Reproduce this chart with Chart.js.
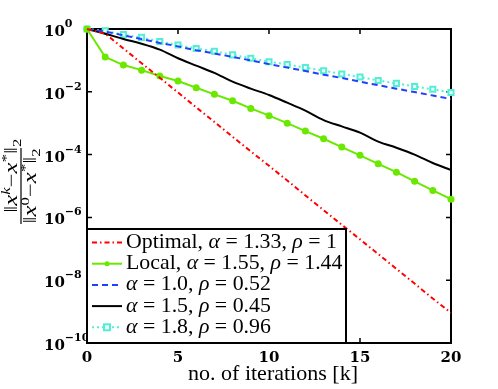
<!DOCTYPE html>
<html>
<head>
<meta charset="utf-8">
<script src="https://cdn.jsdelivr.net/npm/chart.js@4"></script>
<style>
  html, body { margin: 0; padding: 0; background: #fff; }
</style>
</head>
<body>
<canvas id="myChart" width="498" height="389"></canvas>
<script>
// =========================
//  DATA SECTION
// =========================

// iteration index k
const iterations = [0, 1, 2, 3, 4, 5, 6, 7, 8, 9, 10, 11, 12, 13, 14, 15, 16, 17, 18, 19, 20];

// relative error ||x^k - x*|| / ||x^0 - x*|| per series
const optimalValues = [1, 7.1e-1, 2.4e-1, 8.1e-2, 2.8e-2, 9.5e-3, 3.2e-3, 1.1e-3, 3.7e-4, 1.26e-4, 4.4e-5,
                       1.5e-5, 5.0e-6, 1.7e-6, 5.8e-7, 2.0e-7, 6.8e-8, 2.3e-8, 7.8e-9, 2.6e-9, 9.1e-10];
const localValues = [1, 1.29e-1, 7.1e-2, 4.9e-2, 3.2e-2, 2.2e-2, 1.35e-2, 8.3e-3, 5.2e-3, 2.95e-3, 1.74e-3,
                     1.0e-3, 5.6e-4, 3.2e-4, 1.74e-4, 9.5e-5, 5.1e-5, 2.75e-5, 1.41e-5, 7.2e-6, 3.8e-6];
const alpha10Values = [1, 8.3e-1, 6.3e-1, 4.8e-1, 3.6e-1, 2.8e-1, 2.1e-1, 1.66e-1, 1.29e-1, 1.0e-1, 7.6e-2,
                       5.9e-2, 4.6e-2, 3.5e-2, 2.75e-2, 2.1e-2, 1.62e-2, 1.26e-2, 9.8e-3, 7.6e-3, 5.9e-3];
const alpha15Values = [1, 7.1e-1, 4.8e-1, 3.4e-1, 2.2e-1, 1.17e-1, 6.8e-2, 4.0e-2, 2.1e-2, 1.26e-2, 7.9e-3,
                       4.5e-3, 2.5e-3, 1.26e-3, 7.9e-4, 5.0e-4, 2.6e-4, 1.66e-4, 1.0e-4, 5.4e-5, 3.2e-5];
const alpha18Values = [1, 8.7e-1, 6.6e-1, 5.4e-1, 4.0e-1, 3.1e-1, 2.4e-1, 1.95e-1, 1.5e-1, 1.17e-1, 9.1e-2,
                       7.4e-2, 5.9e-2, 4.7e-2, 3.7e-2, 2.95e-2, 2.3e-2, 1.86e-2, 1.48e-2, 1.2e-2, 9.5e-3];

// tick labels
const xTickValues = [0, 5, 10, 15, 20];
const yTickExponents = [0, -2, -4, -6, -8, -10];

// legend text
const legendLabels = [
    "Optimal, α = 1.33, ρ = 1",
    "Local, α = 1.55, ρ = 1.44",
    "α = 1.0, ρ = 0.52",
    "α = 1.5, ρ = 0.45",
    "α = 1.8, ρ = 0.96"
];
const xAxisTitle = "no. of iterations [k]";

// colours
const RED = "#ff0000";
const GREEN = "#6ae800";
const BLUE = "#2040ff";
const BLACK = "#000000";
const CYAN = "#55eed4";

// =========================
//  HELPER FUNCTIONS
// =========================

function toPoints(values) {
    return iterations.map((k, i) => ({ x: k, y: values[i] }));
}

// width of a list of text runs [{t, font, dy}]
function runsWidth(ctx, runs) {
    var w = 0;
    runs.forEach((r) => { ctx.font = r.font; w += ctx.measureText(r.t).width; });
    return w;
}
// draw runs starting at x, baseline y (sx = horizontal stretch)
function drawRuns(ctx, runs, x, y, sx) {
    sx = sx || 1;
    ctx.save();
    ctx.translate(x, y);
    ctx.scale(sx, 1);
    var cx = 0;
    runs.forEach((r) => {
        ctx.font = r.font;
        ctx.fillText(r.t, cx, r.dy || 0);
        cx += ctx.measureText(r.t).width;
    });
    ctx.restore();
}

// legend label -> runs with Greek letters in italic
function labelRuns(text) {
    var up = "21px 'Liberation Serif', serif";
    var it = "italic 21px 'Liberation Serif', serif";
    var runs = [];
    var cur = "";
    for (var ch of text) {
        if (ch == "α" || ch == "ρ") {
            if (cur) runs.push({ t: cur, font: up });
            cur = "";
            runs.push({ t: ch, font: it });
        } else {
            cur += ch;
        }
    }
    if (cur) runs.push({ t: cur, font: up });
    return runs;
}

// legend line samples, same styles as datasets
const legendStyles = [
    { color: RED, dash: [5, 3, 1.5, 3], width: 2, marker: null },
    { color: GREEN, dash: [], width: 2, marker: "circle" },
    { color: BLUE, dash: [6, 4], width: 2, marker: null },
    { color: BLACK, dash: [], width: 2, marker: null },
    { color: CYAN, dash: [2, 3], width: 2, marker: "rect" }
];

// =========================
//  CUSTOM AXES / LEGEND PLUGIN
// =========================

const axesPlugin = {
    id: "matlabAxes",
    beforeDatasetsDraw(chart) {
        const ctx = chart.ctx;
        const a = chart.chartArea;
        const xs = chart.scales.x;
        const ys = chart.scales.y;
        ctx.save();
        ctx.strokeStyle = "#000";
        ctx.lineWidth = 2;
        ctx.strokeRect(a.left, a.top, a.right - a.left, a.bottom - a.top);

        // ticks pointing inward
        ctx.lineWidth = 1.5;
        ctx.beginPath();
        xTickValues.forEach((v) => {
            var px = xs.getPixelForValue(v);
            ctx.moveTo(px, a.bottom); ctx.lineTo(px, a.bottom - 5);
            ctx.moveTo(px, a.top); ctx.lineTo(px, a.top + 5);
        });
        yTickExponents.forEach((e) => {
            var py = ys.getPixelForValue(Math.pow(10, e));
            ctx.moveTo(a.left, py); ctx.lineTo(a.left + 5, py);
            ctx.moveTo(a.right, py); ctx.lineTo(a.right - 5, py);
        });
        ctx.stroke();

        // tick labels
        ctx.fillStyle = "#000";
        ctx.textAlign = "center";
        ctx.textBaseline = "middle";
        ctx.font = "bold 15px 'DejaVu Serif', serif";
        xTickValues.forEach((v) => {
            ctx.fillText(String(v), xs.getPixelForValue(v), 358);
        });
        ctx.textAlign = "left";
        ctx.textBaseline = "alphabetic";
        yTickExponents.forEach((e) => {
            var py = ys.getPixelForValue(Math.pow(10, e));
            ctx.font = "bold 15px 'DejaVu Serif', serif";
            ctx.fillText("10", 44, py + 7);
            var w = ctx.measureText("10").width;
            ctx.font = "bold 11px 'DejaVu Serif', serif";
            ctx.fillText(e == 0 ? "0" : "\u2212" + (-e), 44 + w, py - 2);
        });

        // x axis title, stretched to the reference width
        ctx.font = "21px 'Liberation Serif', serif";
        var tw = ctx.measureText(xAxisTitle).width;
        drawRuns(ctx, [{ t: xAxisTitle, font: ctx.font }], 188, 380, 170 / tw);

        // y axis title (fraction, rotated)
        var f = "18px 'Liberation Serif', serif";
        var fi = "italic 18px 'Liberation Serif', serif";
        var fs = "italic 12px 'Liberation Serif', serif";
        var fn = "12px 'Liberation Serif', serif";
        var num = [
            { t: "\u2016", font: f }, { t: "x", font: fi }, { t: "k", font: fs, dy: -7 },
            { t: "\u2212", font: f }, { t: "x", font: fi }, { t: "*", font: fn, dy: -7 },
            { t: "\u2016", font: f }, { t: "2", font: fn, dy: 4 }
        ];
        var den = [
            { t: "\u2016", font: f }, { t: "x", font: fi }, { t: "0", font: fn, dy: -7 },
            { t: "\u2212", font: f }, { t: "x", font: fi }, { t: "*", font: fn, dy: -7 },
            { t: "\u2016", font: f }, { t: "2", font: fn, dy: 4 }
        ];
        var cy = (a.top + a.bottom) / 2;
        ctx.translate(21, cy);
        ctx.rotate(-Math.PI / 2);
        var wn = runsWidth(ctx, num);
        var wd = runsWidth(ctx, den);
        drawRuns(ctx, num, -wn / 2, -4, 74 / wn);
        drawRuns(ctx, den, -wd / 2 * (74 / wn), 15, 74 / wn);
        ctx.lineWidth = 1.2;
        ctx.beginPath();
        ctx.moveTo(-38, 0); ctx.lineTo(38, 0);
        ctx.stroke();
        ctx.restore();
    },
    afterDraw(chart) {
        const ctx = chart.ctx;
        const a = chart.chartArea;
        ctx.save();
        var bx = a.left, by = 229, bw = 259, bh = a.bottom - 229;
        ctx.fillStyle = "#fff";
        ctx.fillRect(bx, by, bw, bh);
        ctx.strokeStyle = "#000";
        ctx.lineWidth = 2;
        ctx.strokeRect(bx, by, bw, bh);

        legendLabels.forEach((lab, i) => {
            var base = 248 + i * 21.2;
            var ly = base - 5.5;
            var s = legendStyles[i];
            ctx.strokeStyle = s.color;
            ctx.lineWidth = s.width;
            ctx.setLineDash(s.dash);
            ctx.beginPath();
            ctx.moveTo(92, ly); ctx.lineTo(122, ly);
            ctx.stroke();
            ctx.setLineDash([]);
            if (s.marker == "circle") {
                ctx.fillStyle = s.color;
                ctx.beginPath();
                ctx.arc(107, ly, 2.5, 0, Math.PI * 2);
                ctx.fill();
            } else if (s.marker == "rect") {
                ctx.fillStyle = "#e8fffa";
                ctx.fillRect(104, ly - 3, 6, 6);
                ctx.strokeRect(104, ly - 3, 6, 6);
            }
            ctx.fillStyle = "#000";
            ctx.textAlign = "left";
            ctx.textBaseline = "alphabetic";
            var runs = labelRuns(lab);
            // first label spans about 211 px in the reference; same stretch for all rows
            var w0 = runsWidth(ctx, labelRuns(legendLabels[0]));
            drawRuns(ctx, runs, 126, base, 211 / w0);
        });
        ctx.restore();
    }
};

// =========================
//  CHART
// =========================

const ctx = document.getElementById("myChart");

const data = {
    datasets: [
        {
            label: legendLabels[0],
            data: toPoints(optimalValues),
            borderColor: RED,
            borderWidth: 2,
            borderDash: [5, 3, 1.5, 3],
            pointRadius: 0,
            fill: false
        },
        {
            label: legendLabels[1],
            data: toPoints(localValues),
            borderColor: GREEN,
            backgroundColor: GREEN,
            borderWidth: 2,
            pointRadius: 3.5,
            pointBorderWidth: 0,
            pointBackgroundColor: GREEN,
            fill: false
        },
        {
            label: legendLabels[2],
            data: toPoints(alpha10Values),
            borderColor: BLUE,
            borderWidth: 2,
            borderDash: [6, 4],
            pointRadius: 0,
            fill: false
        },
        {
            label: legendLabels[3],
            data: toPoints(alpha15Values),
            borderColor: BLACK,
            borderWidth: 2,
            pointRadius: 0,
            cubicInterpolationMode: "monotone",
            fill: false
        },
        {
            label: legendLabels[4],
            data: toPoints(alpha18Values),
            borderColor: CYAN,
            borderWidth: 2,
            borderDash: [2, 3],
            pointStyle: "rect",
            pointRadius: 3.6,
            pointBorderWidth: 2,
            pointBorderColor: CYAN,
            pointBackgroundColor: "#e8fffa",
            fill: false
        }
    ]
};

const myChart = new Chart(ctx, {
    type: "line",
    data: data,
    options: {
        responsive: false,
        animation: false,
        clip: false,
        layout: { padding: { left: 87, top: 29, right: 47, bottom: 46 } },
        plugins: {
            legend: { display: false },
            tooltip: { enabled: false }
        },
        scales: {
            x: { type: "linear", min: 0, max: 20, display: false },
            y: { type: "logarithmic", min: 1e-10, max: 1, display: false }
        }
    },
    plugins: [axesPlugin]
});
</script>
</body>
</html>
